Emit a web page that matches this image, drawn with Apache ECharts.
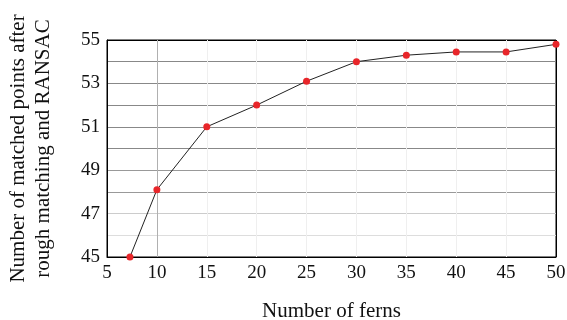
<!DOCTYPE html>
<html><head><meta charset="utf-8">
<script src="https://cdn.jsdelivr.net/npm/echarts@6/dist/echarts.min.js"></script>
<style>html,body{margin:0;padding:0;background:#fff}#c{width:567px;height:320px}</style>
</head><body><div id="c"></div>
<script>
const ferns = [7.3, 10, 15, 20, 25, 30, 35, 40, 45, 50];
const matched = [45.0, 48.1, 51.0, 52.0, 53.1, 54.0, 54.3, 54.45, 54.45, 54.8];
const yTickLabels = [45, 47, 49, 51, 53, 55];
const xTitle = 'Number of ferns';
const yTitle = 'Number of matched points after\nrough matching and RANSAC';
const font = '"Liberation Serif", "Times New Roman", serif';
const chart = echarts.init(document.getElementById('c'), null, {renderer: 'canvas'});
chart.setOption({
  animation: false,
  backgroundColor: '#fff',
  grid: {left: 107, right: 11, top: 40, bottom: 63, show: true, borderColor: '#000', borderWidth: 1,
    containLabel: false, outerBoundsMode: 'none'},
  xAxis: {
    type: 'value', min: 5, max: 50, interval: 5,
    name: xTitle, nameLocation: 'middle', nameGap: 44,
    nameTextStyle: {fontFamily: font, fontSize: 21, color: '#111'},
    axisLine: {show: true, lineStyle: {color: '#000'}},
    axisTick: {show: false},
    axisLabel: {fontFamily: font, fontSize: 19, color: '#111', margin: 7},
    splitLine: {show: true, lineStyle: {color: ['#000', '#b0b0b0', '#efefef', '#efefef', '#efefef', '#efefef', '#efefef', '#efefef', '#efefef', '#000'], width: 1}}
  },
  yAxis: {
    type: 'value', min: 45, max: 55, interval: 1,
    name: yTitle, nameLocation: 'middle', nameGap: 51, nameRotate: 90,
    nameTextStyle: {fontFamily: font, fontSize: 21, color: '#111', lineHeight: 25, align: 'center'},
    axisLine: {show: true, lineStyle: {color: '#000'}},
    axisTick: {show: false},
    axisLabel: {fontFamily: font, fontSize: 19, color: '#111', margin: 7,
      formatter: v => yTickLabels.indexOf(v) >= 0 ? String(v) : ''},
    splitLine: {show: true, lineStyle: {color: ['#000', '#dddddd', '#cccccc', '#999999', '#999999', '#888888', '#888888', '#888888', '#888888', '#888888', '#000'], width: 1}}
  },
  series: [{
    type: 'line',
    data: ferns.map((x, i) => [x, matched[i]]),
    smooth: false,
    symbol: 'circle', symbolSize: 7,
    lineStyle: {color: '#222', width: 1},
    itemStyle: {color: '#e8262a'},
    clip: false
  }]
});
</script></body></html>
